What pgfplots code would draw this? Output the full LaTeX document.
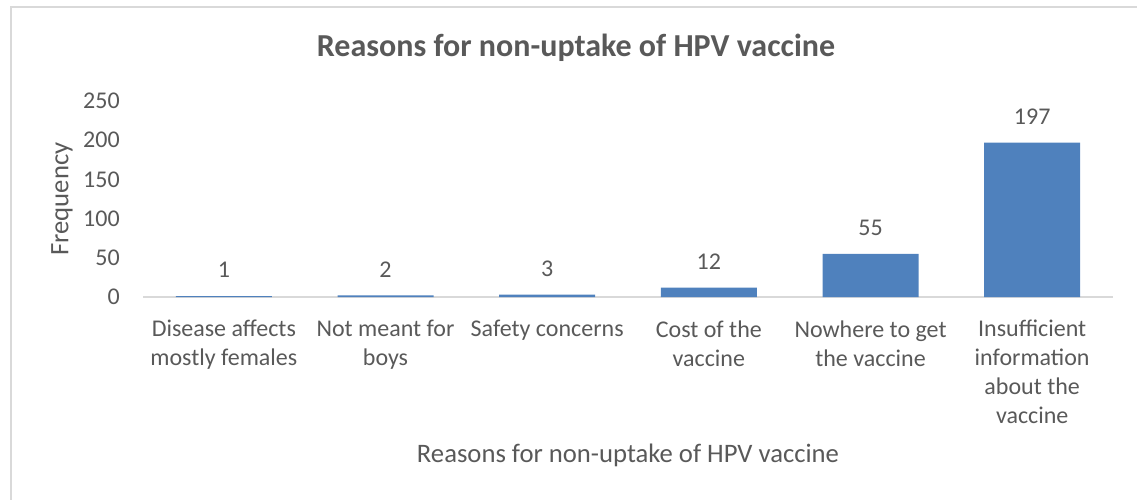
\documentclass[border=0pt]{standalone}
\usepackage{pgfplots}
\pgfplotsset{compat=1.18}
\usepackage{fontspec}
\setmainfont{Carlito}
\definecolor{txt}{HTML}{595959}
\definecolor{gridc}{HTML}{D9D9D9}
\definecolor{barc}{HTML}{4F81BD}
\begin{document}
\begin{tikzpicture}[x=0.75pt,y=-0.75pt]
\useasboundingbox (0,0) rectangle (1137,499);
\draw[gridc, line width=1.5pt] (11,7) rectangle (1141,515);
\begin{axis}[
  at={(107.25pt,-222.75pt)}, anchor=south west,
  scale only axis, width=727.5pt, height=147pt,
  xmin=-0.5, xmax=5.5, ymin=0, ymax=250,
  ybar, bar width=72pt,
  axis x line=bottom, axis y line=left,
  axis line style={-},
  x axis line style={gridc, line width=1.5pt},
  y axis line style={draw=none},
  major tick length=0pt,
  xtick=data,
  xticklabels={{Disease affects\\mostly females},{Not meant for\\boys},{Safety concerns},{Cost of the\\vaccine},{Nowhere to get\\the vaccine},{Insufficient\\information\\about the\\vaccine}},
  xticklabel style={align=center, anchor=north, txt, font=\fontsize{18}{21.75}\selectfont, yshift=-14pt},
  ytick={0,50,...,250},
  /pgf/number format/assume math mode=true,
  yticklabel style={anchor=east, inner sep=0pt, xshift=-17.25pt, txt, font=\fontsize{18}{21.75}\selectfont},
  xlabel={Reasons for non-uptake of HPV vaccine},
  xlabel style={at={(axis description cs:0.5,0)}, anchor=center, yshift=-118.5pt, txt, font=\fontsize{20}{24}\selectfont},
  ylabel={Frequency},
  ylabel style={at={(axis description cs:0,0.5)}, anchor=center, yshift=60.75pt, txt, font=\fontsize{20}{24}\selectfont},
  nodes near coords,
  every node near coord/.append style={anchor=center, yshift=19.5pt, txt, font=\fontsize{18}{21.75}\selectfont},
  clip=false,
]
\addplot[fill=barc, draw=none] coordinates {(0,1) (1,2) (2,3) (3,12) (4,55) (5,197)};
\end{axis}
\node[txt, font=\fontsize{24}{28}\selectfont\bfseries] at (576,48) {Reasons for non-uptake of HPV vaccine};
\end{tikzpicture}
\end{document}
